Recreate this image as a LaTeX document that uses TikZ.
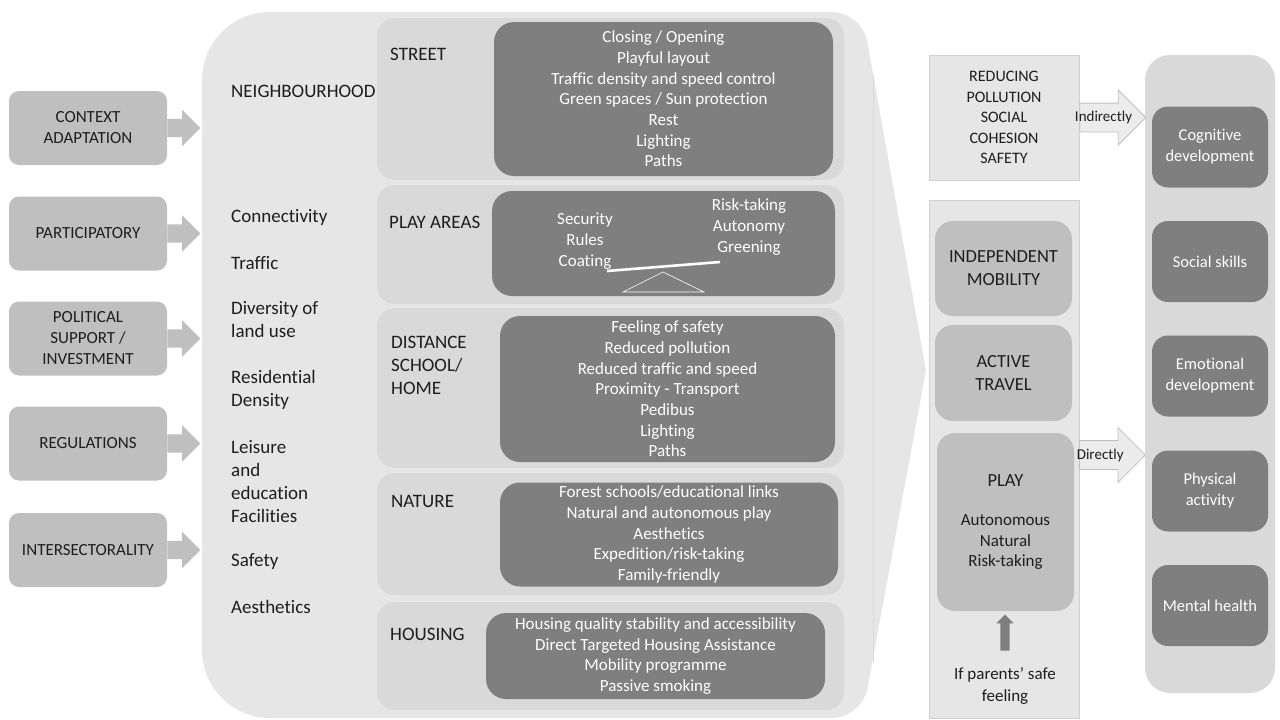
\documentclass[tikz,border=0pt]{standalone}
\usepackage{fontspec}
\setmainfont{Carlito}[Ligatures=NoCommon]
\usepackage{tikz}
\usetikzlibrary{positioning,shapes.arrows}
\definecolor{panelbg}{RGB}{231,230,230}
\definecolor{subbg}{RGB}{217,217,217}
\definecolor{darkfill}{RGB}{127,127,127}
\definecolor{midfill}{RGB}{191,191,191}
\definecolor{inkgray}{RGB}{30,30,30}
\definecolor{edgegray}{RGB}{208,208,208}
\definecolor{arrowfill}{RGB}{236,236,236}

\begin{document}
\begin{tikzpicture}[x=1pt, y=-1pt,
  lbox/.style={rectangle, rounded corners=10pt, fill=midfill, text=inkgray, align=center, minimum width=158pt, minimum height=74pt, font=\fontsize{17}{21}\selectfont},
  inarr/.style={single arrow, fill=midfill, inner sep=0pt, text height=18pt, text depth=0pt, minimum height=33pt, single arrow head extend=9pt, single arrow head indent=0pt},
  lab/.style={anchor=west, align=left, inner sep=0pt, text=inkgray, font=\fontsize{19}{23}\selectfont},
  subpanel/.style={rectangle, rounded corners=18pt, fill=subbg, minimum width=467pt},
  dbox/.style={rectangle, rounded corners=20pt, fill=darkfill, text=white, align=center, font=\fontsize{17}{20.7}\selectfont},
  dtext/.style={align=center, inner sep=0pt, text=white, font=\fontsize{17}{20.7}\selectfont},
  plank/.style={white, line width=2.6pt},
  pivot/.style={white, line width=0.6pt},
  colbox/.style={rectangle, fill=panelbg, draw=edgegray, line width=0.6pt, minimum width=150pt, align=center, text=inkgray},
  mbox/.style={rectangle, rounded corners=18pt, fill=midfill, text=inkgray, align=center, minimum width=137pt, font=\fontsize{18.5}{23}\selectfont},
  outarr/.style={single arrow, fill=arrowfill, draw=midfill, line width=0.8pt, inner sep=0pt, text height=28pt, text depth=0pt, minimum height=66pt, single arrow head extend=13pt, single arrow head indent=0pt},
  arrlab/.style={inner sep=0pt, text=inkgray, font=\fontsize{15}{18}\selectfont},
  uparr/.style={single arrow, fill=darkfill, inner sep=0pt, text height=9pt, text depth=0pt, minimum height=36pt, single arrow head extend=4pt, single arrow head indent=0pt, rotate=90},
  obox/.style={rectangle, rounded corners=16pt, fill=darkfill, text=white, align=center, minimum width=116pt, minimum height=81pt, font=\fontsize{16.5}{21}\selectfont}
]
  \useasboundingbox (0,0) rectangle (1280,720);
  % ---------------- big neighbourhood panel ----------------
  \fill[panelbg] (202,365) [rounded corners=68pt] -- (202,12) [rounded corners=30pt] -- (862,12) [sharp corners] -- (926,370) [rounded corners=30pt] -- (862,718) [rounded corners=68pt] -- (202,718) [sharp corners] -- cycle;
  \draw[edgegray!60!panelbg, line width=0.6pt] (873,75) -- (873,662);

  % ---------------- left: levers ----------------
  \node[lbox] (ctx) at (88,128) {CONTEXT\\ADAPTATION};
  \node[lbox] (part) at (88,233.5) {PARTICIPATORY};
  \node[lbox] (pol) at (88,338.5) {POLITICAL\\SUPPORT /\\INVESTMENT};
  \node[lbox] (reg) at (88,443.5) {REGULATIONS};
  \node[lbox] (inter) at (88,550) {INTERSECTORALITY};
  \node[inarr, right=0pt of ctx] (ctxarr) {};
  \node[inarr, right=0pt of part] (partarr) {};
  \node[inarr, right=0pt of pol] (polarr) {};
  \node[inarr, right=0pt of reg] (regarr) {};
  \node[inarr, right=0pt of inter] (interarr) {};

  % ---------------- neighbourhood factors ----------------
  \node[lab] (nbh) at (231,91) {NEIGHBOURHOOD};
  \node[lab] (conn) at (231,217) {Connectivity};
  \node[lab] (traf) at (231,263) {Traffic};
  \node[lab] (divers) at (231,319.5) {Diversity of\\land use};
  \node[lab] (resid) at (231,389.5) {Residential\\Density};
  \node[lab] (leis) at (231,481.5) {Leisure\\and\\education\\Facilities};
  \node[lab] (safe) at (231,562) {Safety};
  \node[lab] (aesth) at (231,607) {Aesthetics};

  % ---------------- settings ----------------
  \node[subpanel, minimum height=162pt] (street) at (610.5,99) {};
  \node[subpanel, minimum height=119pt] (play) at (610.5,244.5) {};
  \node[subpanel, minimum height=160pt] (dist) at (610.5,388) {};
  \node[subpanel, minimum height=122pt] (nat) at (610.5,534) {};
  \node[subpanel, minimum height=108pt] (hous) at (610.5,656) {};
  \node[lab] (streetlab) at (390,54) {STREET};
  \node[lab] (playlab) at (389,222) {PLAY AREAS};
  \node[lab] (distlab) at (391,365) {DISTANCE\\SCHOOL/\\HOME};
  \node[lab] (natlab) at (391,501) {NATURE};
  \node[lab] (houslab) at (390,634) {HOUSING};

  \node[dbox, minimum width=339pt, minimum height=154pt] (streetbox) at (663.5,99) {Closing / Opening\\Playful layout\\Traffic density and speed control\\Green spaces / Sun protection\\Rest\\Lighting\\Paths};
  \node[dbox, minimum width=343pt, minimum height=105pt] (playbox) at (663.5,243.5) {};
  \node[dtext] (safeset) at (585,241) {Security\\Rules\\Coating};
  \node[dtext] (riskset) at (749,227) {Risk-taking\\Autonomy\\Greening};
  \draw[plank] (607,271) -- (720,262);
  \draw[pivot] (623,292) -- (663,272) -- (704,292) -- cycle;
  \node[dbox, minimum width=335pt, minimum height=146pt] (distbox) at (667.5,389) {Feeling of safety\\Reduced pollution\\Reduced traffic and speed\\Proximity - Transport\\Pedibus\\Lighting\\Paths};
  \node[dbox, minimum width=338pt, minimum height=103pt] (natbox) at (669,534.5) {Forest schools/educational links\\Natural and autonomous play\\Aesthetics\\Expedition/risk-taking\\Family-friendly};
  \node[dbox, minimum width=339pt, minimum height=86pt] (housbox) at (655.5,656) {Housing quality stability and accessibility\\Direct Targeted Housing Assistance\\Mobility programme\\Passive smoking};

  % ---------------- mechanisms ----------------
  \node[colbox, minimum height=125pt, font=\fontsize{16}{20.6}\selectfont] (effbox) at (1004,117.5) {REDUCING\\POLLUTION\\SOCIAL\\COHESION\\SAFETY};
  \node[colbox, minimum height=518pt] (mechcol) at (1004,459) {};
  \node[mbox, minimum height=95pt] (indep) at (1003.5,268.5) {INDEPENDENT\\MOBILITY};
  \node[mbox, minimum height=96pt] (active) at (1003.5,373) {ACTIVE\\TRAVEL};
  \node[mbox, minimum height=178pt, font=\fontsize{17}{20.5}\selectfont] (playact) at (1005.5,522) {{\fontsize{18.5}{23}\selectfont PLAY}\\[19pt]Autonomous\\Natural\\Risk-taking};
  \node[align=center, inner sep=0pt, text=inkgray, font=\fontsize{17}{22}\selectfont] (parents) at (1005,686) {If parents’ safe\\feeling};
  \node[uparr] (uparrow) at (1005,635) {};

  % ---------------- outcomes ----------------
  \node[rectangle, rounded corners=25pt, fill=subbg, minimum width=130pt, minimum height=638pt] (outcomes) at (1210,374) {};
  \node[obox] (cogn) at (1210,147) {Cognitive\\development};
  \node[obox] (social) at (1210,261.5) {Social skills};
  \node[obox] (emot) at (1210,376) {Emotional\\development};
  \node[obox] (phys) at (1210,491) {Physical\\activity};
  \node[obox] (mental) at (1210,605.5) {Mental health};

  \node[outarr, right=0pt of effbox] (indarr) {};
  \node[arrlab, xshift=-2pt] (indlab) at (indarr.center) {Indirectly};
  \node[outarr, anchor=west] (dirarr) at (1079,455) {};
  \node[arrlab, xshift=-5pt] (dirlab) at (dirarr.center) {Directly};
\end{tikzpicture}
\end{document}
